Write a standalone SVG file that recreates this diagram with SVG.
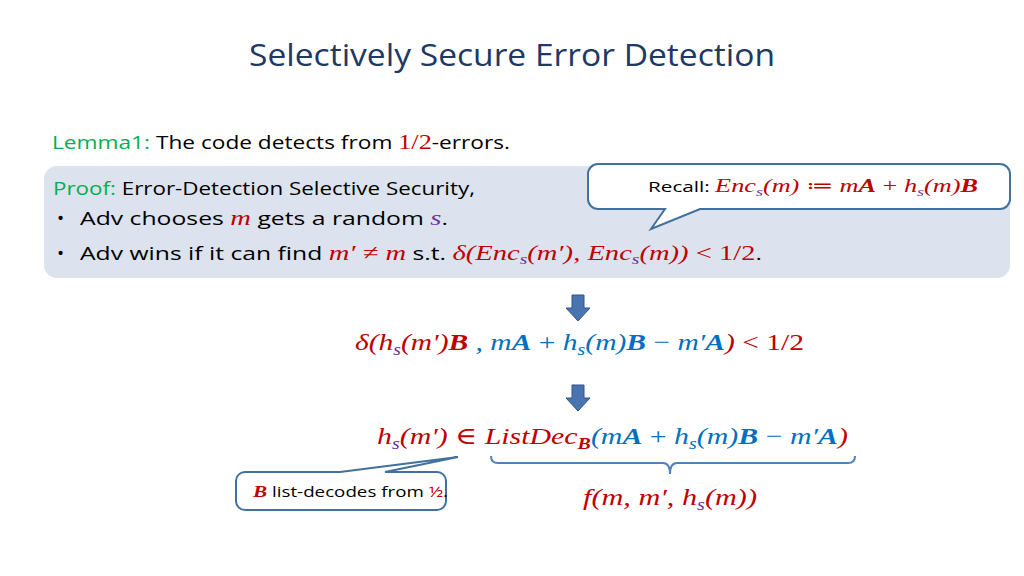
<svg xmlns="http://www.w3.org/2000/svg" width="1024" height="576" viewBox="0 0 1024 576">
<style>
.t{font-family:"Open Sans","Liberation Sans",sans-serif;fill:#000}
.m{font-family:"Liberation Serif","DejaVu Serif",serif;font-style:italic}
.r{fill:#C00000}.b{fill:#0070C0}.p{fill:#7030A0}.g{fill:#00B050}
.bd{font-weight:bold}
.n{font-style:normal}
.call{fill:#fff;stroke:#41719C;stroke-width:2}
.arr{fill:#4A74B0;stroke:#2F528F;stroke-width:1}
</style>
<rect width="1024" height="576" fill="#fff"/>
<g id="title"><text x="512" y="66" text-anchor="middle" class="t" style="font-size:31px;fill:#203864" textLength="526" lengthAdjust="spacingAndGlyphs">Selectively Secure Error Detection</text></g>
<g id="lemma"><text x="52" y="149" class="t" style="font-size:19px" textLength="458" lengthAdjust="spacingAndGlyphs"><tspan class="g">Lemma1:</tspan> The code detects from <tspan class="m n r" style="font-size:22px">1/2</tspan>-errors.</text></g>
<g id="proof">
<rect x="44" y="166" width="966" height="112" rx="13" fill="#DCE3EE"/>
<text x="53" y="195" class="t" style="font-size:19px" textLength="422" lengthAdjust="spacingAndGlyphs"><tspan class="g">Proof:</tspan> Error-Detection Selective Security,</text>
<text x="57" y="225" class="t" style="font-size:19px">•</text>
<text x="80" y="225" class="t" style="font-size:19px" textLength="368" lengthAdjust="spacingAndGlyphs">Adv chooses <tspan class="m r" style="font-size:22px">m</tspan>  gets a random <tspan class="m p" style="font-size:22px">s</tspan>.</text>
<text x="57" y="260" class="t" style="font-size:19px">•</text>
<text x="80" y="260" class="t" style="font-size:19px" textLength="682" lengthAdjust="spacingAndGlyphs">Adv wins if it can find <tspan class="m r" style="font-size:22px">m′ ≠ m</tspan> s.t. <tspan class="m r" style="font-size:22px">δ(Enc<tspan class="p" dy="4" style="font-size:15px">s</tspan><tspan dy="-4">(m′), Enc</tspan><tspan class="p" dy="4" style="font-size:15px">s</tspan><tspan dy="-4">(m)) </tspan><tspan class="n">&lt; 1/2</tspan></tspan>.</text>
</g>
<g id="recall">
<path class="call" d="M598,164 H1000 a10,10 0 0 1 10,10 V199 a10,10 0 0 1 -10,10 H700 L651,229 L665,209 H598 a10,10 0 0 1 -10,-10 V174 a10,10 0 0 1 10,-10 Z"/>
<text x="648" y="192" class="t" style="font-size:15px" textLength="330" lengthAdjust="spacingAndGlyphs">Recall: <tspan class="m r" style="font-size:19px">Enc<tspan class="p" dy="4" style="font-size:13px">s</tspan><tspan dy="-4">(m) ≔ m</tspan><tspan class="bd">A</tspan><tspan class="n"> + </tspan>h<tspan class="p" dy="4" style="font-size:13px">s</tspan><tspan dy="-4">(m)</tspan><tspan class="bd">B</tspan></tspan></text>
</g>
<g id="connectors">
<path class="arr" d="M572,295 H584 V308 H590 L578,321 L566,308 H572 Z"/>
<path class="arr" d="M572,385 H584 V398 H590 L578,411 L566,398 H572 Z"/>
<path d="M491,456 Q491,463 498,463 H663 Q670,463 670,474 Q670,463 677,463 H848 Q855,463 855,456" fill="none" stroke="#4F81BD" stroke-width="2"/>
</g>
<g id="eq1"><text x="355" y="350" class="m" style="font-size:24px" textLength="449" lengthAdjust="spacingAndGlyphs"><tspan class="r">δ(h<tspan class="p" dy="5" style="font-size:16px">s</tspan><tspan dy="-5">(m′)</tspan><tspan class="bd">B</tspan></tspan><tspan class="b"> , m<tspan class="bd">A</tspan><tspan class="n"> + </tspan>h<tspan dy="5" style="font-size:16px">s</tspan><tspan dy="-5">(m)</tspan><tspan class="bd">B</tspan><tspan class="n"> − </tspan>m′<tspan class="bd">A</tspan></tspan><tspan class="r">)<tspan class="n"> &lt; 1/2</tspan></tspan></text></g>
<g id="eq2"><text x="377" y="444" class="m" style="font-size:24px" textLength="471" lengthAdjust="spacingAndGlyphs"><tspan class="r">h<tspan class="p" dy="5" style="font-size:16px">s</tspan><tspan dy="-5">(m′) </tspan><tspan class="n">∈</tspan>  ListDec<tspan class="bd" dy="5" style="font-size:16px">B</tspan></tspan><tspan class="b" dy="-5">(m<tspan class="bd">A</tspan><tspan class="n"> + </tspan>h<tspan dy="5" style="font-size:16px">s</tspan><tspan dy="-5">(m)</tspan><tspan class="bd">B</tspan><tspan class="n"> − </tspan>m′<tspan class="bd">A</tspan></tspan><tspan class="r">)</tspan></text></g>
<g id="eq3"><text x="583" y="505" class="m r" style="font-size:24px" textLength="174" lengthAdjust="spacingAndGlyphs">f(m, m′, h<tspan class="p" dy="5" style="font-size:16px">s</tspan><tspan dy="-5">(m))</tspan></text></g>
<g id="note">
<path class="call" d="M245,472 H340 L458,457 L385,472 H437 a9,9 0 0 1 9,9 V501 a9,9 0 0 1 -9,9 H245 a9,9 0 0 1 -9,-9 V481 a9,9 0 0 1 9,-9 Z"/>
<text x="253" y="497" class="t" style="font-size:15px" textLength="195" lengthAdjust="spacingAndGlyphs"><tspan class="m r bd" style="font-size:17px">B</tspan> list-decodes from <tspan class="r">½</tspan>.</text>
</g>
</svg>
